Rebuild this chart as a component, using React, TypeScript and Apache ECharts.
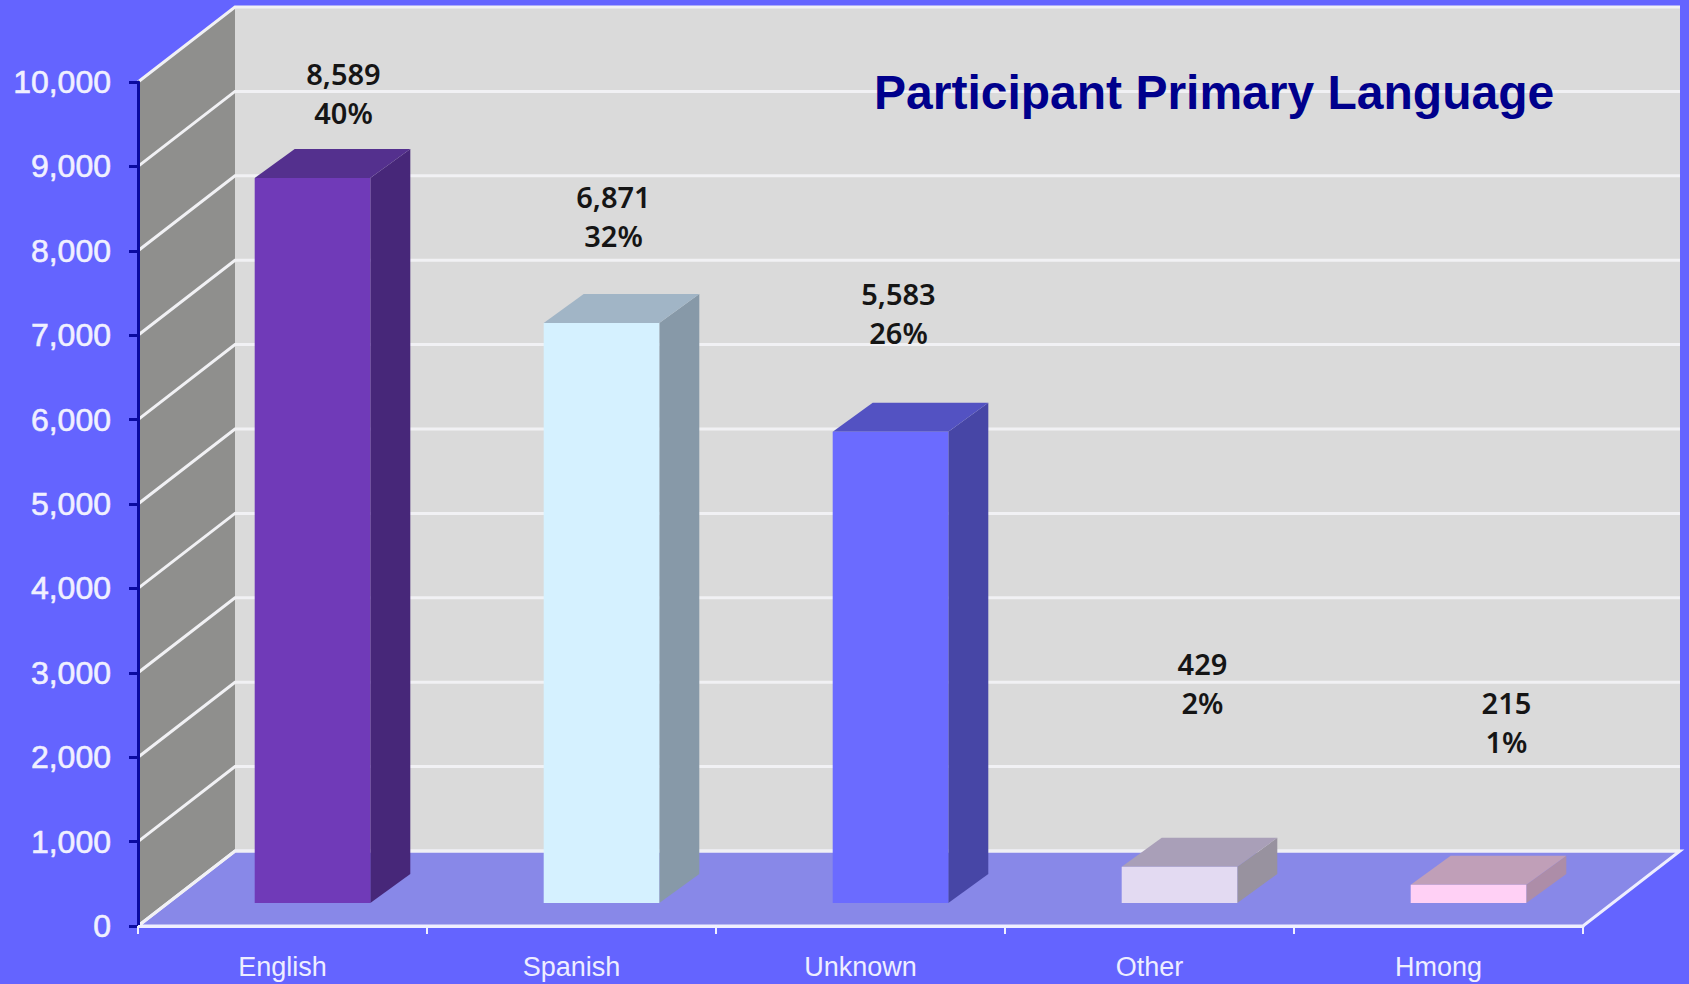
import React, { useEffect, useRef } from "react";
import * as echarts from "echarts";

const categories = ["English", "Spanish", "Unknown", "Other", "Hmong"];
const counts = [8589, 6871, 5583, 429, 215];
const percents = ["40%", "32%", "26%", "2%", "1%"];
const yTicks = [0, 1000, 2000, 3000, 4000, 5000, 6000, 7000, 8000, 9000, 10000];

// Styling and layout only
const barPalette = [
  { front: "#703AB8", side: "#472779", top: "#54308E" },
  { front: "#D5F1FF", side: "#8799A8", top: "#A1B5C6" },
  { front: "#6B6BFF", side: "#4746A6", top: "#5352C2" },
  { front: "#E3DAF2", side: "#98929F", top: "#A99FB8" },
  { front: "#FFD0F5", side: "#AD8DA8", top: "#C09FB8" },
];
const labelShift = [
  [31, -85],
  [12, -107],
  [8, -119],
  [23, -184],
  [38, -163],
];
const WALL_DX = 97;
const WALL_DY = -75;
const BAR_DX = 30;
const BAR_DY = -23;
const DEPTH_DX = 40;
const DEPTH_DY = -29;
const BAR_RATIO = 0.4;
const LABEL_FONT = '600 29px "Noto Sans", sans-serif';

function renderBackdrop(params: any) {
  const { x, y, width, height } = params.coordSys;
  const b = y + height;
  const r = x + width;
  return {
    type: "group",
    children: [
      {
        type: "polygon",
        shape: { points: [[x + WALL_DX, y + WALL_DY], [r + WALL_DX, y + WALL_DY], [r + WALL_DX, b + WALL_DY], [x + WALL_DX, b + WALL_DY]] },
        style: { fill: "#DADADA" },
      },
      {
        type: "polygon",
        shape: { points: [[x, y], [x + WALL_DX, y + WALL_DY], [x + WALL_DX, b + WALL_DY], [x, b]] },
        style: { fill: "#8F8F8D" },
      },
      {
        type: "polygon",
        shape: { points: [[x, b], [r, b], [r + WALL_DX, b + WALL_DY], [x + WALL_DX, b + WALL_DY]] },
        style: { fill: "#8888E8", stroke: "#EEEEFF", lineWidth: 3 },
      },
    ],
  };
}

function renderGridline(params: any, api: any) {
  const { x, width } = params.coordSys;
  const yv = api.coord([0, api.value(1)])[1];
  return {
    type: "polyline",
    shape: { points: [[x, yv], [x + WALL_DX, yv + WALL_DY], [x + width + WALL_DX, yv + WALL_DY]] },
    style: { fill: "none", stroke: "#F1F1F4", lineWidth: 3 },
  };
}

function renderBar(params: any, api: any) {
  const i = api.value(0);
  const v = api.value(1);
  const c = api.coord([i, v]);
  const base = api.coord([i, 0]);
  const w = api.size([1, 0])[0] * BAR_RATIO;
  const x0 = c[0] - w / 2 + BAR_DX;
  const x1 = x0 + w;
  const yt = c[1] + BAR_DY;
  const yb = base[1] + BAR_DY;
  const col = barPalette[params.dataIndex];
  const [sx, sy] = labelShift[params.dataIndex];
  const lx = (x0 + x1) / 2 + sx;
  const ly = yt + sy;
  const text = (t: string, yy: number) => ({
    type: "text",
    style: { text: t, x: lx, y: yy, fill: "#151515", font: LABEL_FONT, align: "center", verticalAlign: "middle" },
  });
  return {
    type: "group",
    children: [
      { type: "polygon", shape: { points: [[x1, yt], [x1 + DEPTH_DX, yt + DEPTH_DY], [x1 + DEPTH_DX, yb + DEPTH_DY], [x1, yb]] }, style: { fill: col.side } },
      { type: "polygon", shape: { points: [[x0, yt], [x0 + DEPTH_DX, yt + DEPTH_DY], [x1 + DEPTH_DX, yt + DEPTH_DY], [x1, yt]] }, style: { fill: col.top } },
      { type: "rect", shape: { x: x0, y: yt, width: w, height: yb - yt }, style: { fill: col.front } },
      text(v.toLocaleString("en-US"), ly - 19.5),
      text(percents[params.dataIndex], ly + 19.5),
    ],
  };
}

export default function App() {
  const ref = useRef<HTMLDivElement>(null);
  useEffect(() => {
    const chart = echarts.init(ref.current!, undefined, { renderer: "svg" });
    chart.setOption({
      animation: false,
      backgroundColor: "#6464FF",
      title: {
        text: "Participant Primary Language",
        left: 869,
        top: 63,
        z: 8,
        textStyle: { color: "#00008C", fontFamily: '"Liberation Sans", Arial, sans-serif', fontWeight: "bold", fontSize: 48 },
      },
      grid: { left: 138, right: 106, top: 82, bottom: 58 },
      xAxis: {
        type: "category",
        data: categories,
        z: 6,
        axisLine: { lineStyle: { color: "#EEEEFF", width: 3 } },
        axisTick: { show: true, length: 8, lineStyle: { color: "#EEEEFF", width: 2 } },
        axisLabel: { color: "#EEEEFF", fontFamily: '"Liberation Sans", Arial, sans-serif', fontSize: 27, margin: 27 },
      },
      yAxis: {
        type: "value",
        min: 0,
        max: 10000,
        interval: 1000,
        z: 6,
        splitLine: { show: false },
        axisLine: { show: true, lineStyle: { color: "#0A0AA0", width: 3 } },
        axisTick: { show: true, length: 9, lineStyle: { color: "#0A0AA0", width: 3 } },
        axisLabel: {
          color: "#F0F0FF",
          fontFamily: '"Liberation Sans", Arial, sans-serif',
          fontSize: 32,
          margin: 27,
          textBorderColor: "#F0F0FF",
          textBorderWidth: 0.6,
          formatter: (v: number) => v.toLocaleString("en-US"),
        },
      },
      series: [
        { type: "custom", name: "backdrop", z: 1, silent: true, renderItem: renderBackdrop, data: [[0, 0]] },
        { type: "custom", name: "gridlines", z: 2, silent: true, renderItem: renderGridline, data: yTicks.map((t) => [0, t]) },
        { type: "custom", name: "Participants", z: 3, renderItem: renderBar, data: counts.map((v, i) => [i, v]) },
      ],
    });
    return () => chart.dispose();
  }, []);
  return <div ref={ref} style={{ position: "absolute", left: 0, top: 0, width: 1689, height: 984 }} />;
}
